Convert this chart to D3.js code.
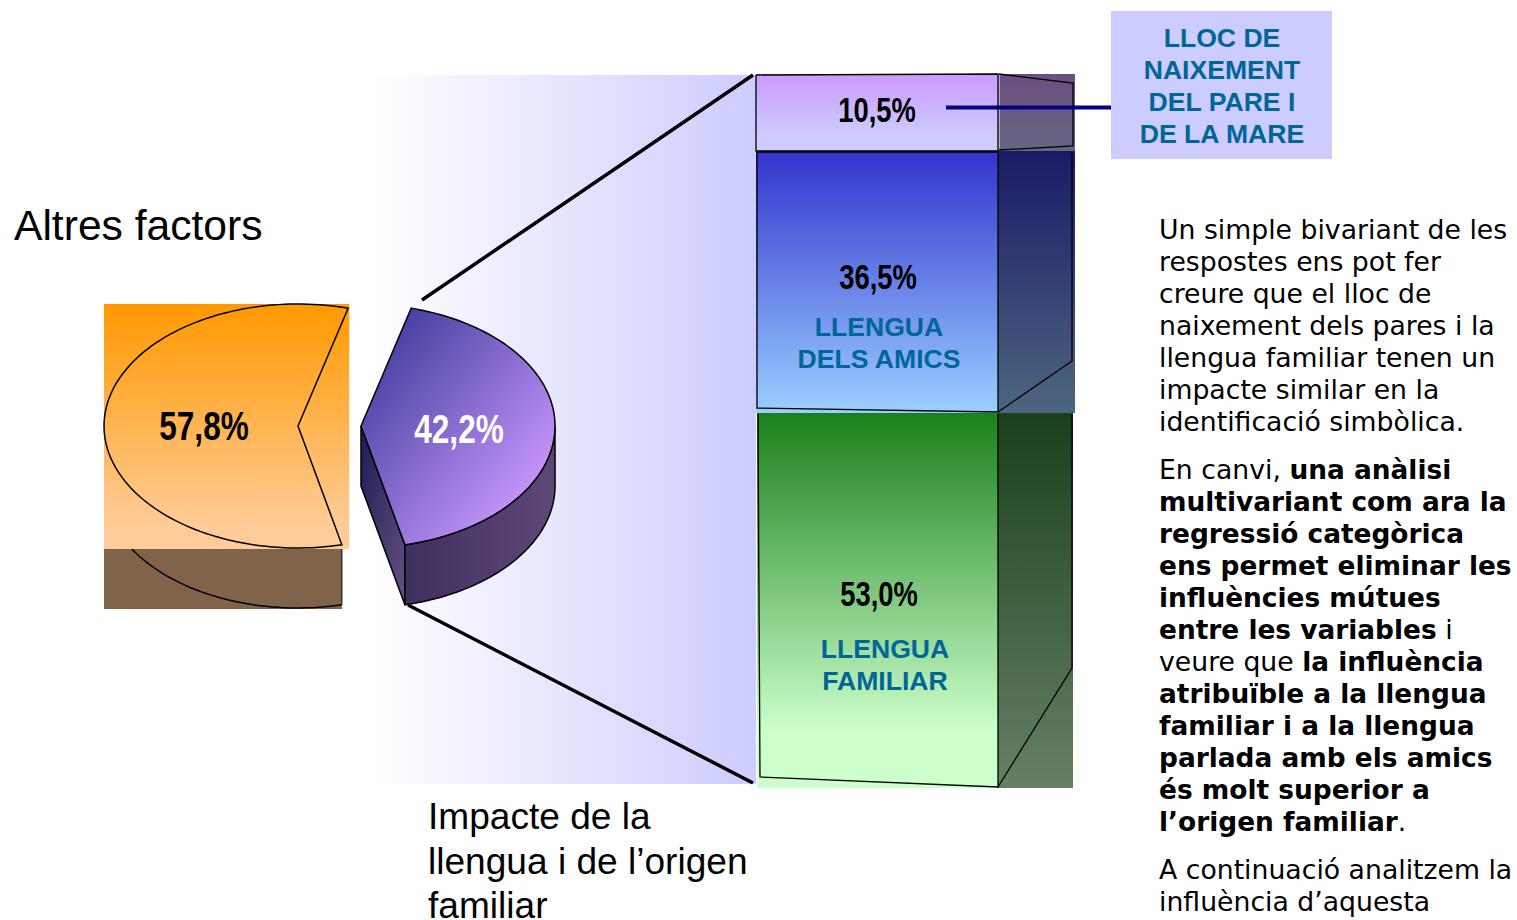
<!DOCTYPE html>
<html><head><meta charset="utf-8">
<style>html,body{margin:0;padding:0;background:#fff}svg{display:block}</style>
<script src="https://cdnjs.cloudflare.com/ajax/libs/d3/7.8.5/d3.min.js"></script>
</head><body><svg id="c" width="1517" height="920"></svg>
<script>
const pieLabels = ["42,2%", "57,8%"];
const pieValues = [42.2, 57.8];
const stackLabels = ["10,5%", "36,5%", "53,0%"];
const stackValues = [10.5, 36.5, 53.0];
const stackNames = [[], ["LLENGUA", "DELS AMICS"], ["LLENGUA", "FAMILIAR"]];
const frontTop = ["#cc99ff", "#3333cc", "#1a801a"];
const frontBottom = ["#ccccff", "#99ccff", "#ccffcc"];
const sideTop = ["#6b4f82", "#1a1a66", "#1a401a"];
const sideBottom = ["#666680", "#4d6680", "#668066"];
const calloutLines = ["LLOC DE", "NAIXEMENT", "DEL PARE I", "DE LA MARE"];
const impactLines = ["Impacte de la", "llengua i de l’origen", "familiar"];
const bodyLines = [
 [[0,"Un simple bivariant de les"]],[[0,"respostes ens pot fer"]],[[0,"creure que el lloc de"]],
 [[0,"naixement dels pares i la"]],[[0,"llengua familiar tenen un"]],[[0,"impacte similar en la"]],
 [[0,"identificació simbòlica."]],
 [[0,"En canvi, "],[1,"una anàlisi"]],[[1,"multivariant com ara la"]],[[1,"regressió categòrica"]],
 [[1,"ens permet eliminar les"]],[[1,"influències mútues"]],[[1,"entre les variables"],[0," i"]],
 [[0,"veure que "],[1,"la influència"]],[[1,"atribuïble a la llengua"]],[[1,"familiar i a la llengua"]],
 [[1,"parlada amb els amics"]],[[1,"és molt superior a"]],[[1,"l’origen familiar"],[0,"."]],
 [[0,"A continuació analitzem la"]],[[0,"influència d’aquesta"]]
];
const bodyY = [239,271,303,335,367,399,431,479,511,543,575,607,639,671,703,735,767,799,831,879,911];

const svg = d3.select("#c"), defs = svg.append("defs");
const grad = (id, c0, c1, x2, y2, o0=0, o1=1) => {
  const g = defs.append("linearGradient").attr("id", id).attr("x1",0).attr("y1",0).attr("x2",x2).attr("y2",y2);
  g.append("stop").attr("offset",o0).attr("stop-color",c0);
  g.append("stop").attr("offset",o1).attr("stop-color",c1);
};
const SANS = "'Liberation Sans',Arial,sans-serif";
const label = (x, y, t, fill, size=36) => svg.append("text").attr("transform",`translate(${x},${y}) scale(0.76,1)`)
  .attr("text-anchor","middle").attr("font-family",SANS).attr("font-weight",700).attr("font-size",size).attr("fill",fill).text(t);
const blue = (x, y, t) => svg.append("text").attr("x",x).attr("y",y).attr("text-anchor","middle")
  .attr("font-family",SANS).attr("font-weight",700).attr("font-size",26.6).attr("fill","#006699").text(t);

// wedge background
grad("wedge","#ffffff","#ccccff",1,0);
svg.append("rect").attr("x",370).attr("y",75).attr("width",386).attr("height",709).attr("fill","url(#wedge)");

// pies
const depth = 60, cy = 426, rx = 194, ry = 122;
const arcs = d3.pie().sort(null).startAngle(15*Math.PI/180).endAngle((15+360)*Math.PI/180)(pieValues);
const pt = (cx, a, dy=0) => [cx + rx*Math.sin(a), cy - ry*Math.cos(a) + dy];
const arcPts = (cx, a0, a1, dy=0) => d3.range(0, 121).map(i => pt(cx, a0 + (a1-a0)*i/120, dy));
const line = d3.line();

// orange slice
const oCx = 298, o = arcs[1];
grad("oTop","#ff9900","#ffcc99",0,1,0,0.92);
const oBotX = pt(oCx, o.startAngle)[0];
svg.append("rect").attr("x",oCx-rx).attr("y",cy+ry+1).attr("width",oBotX-(oCx-rx)).attr("height",depth).attr("fill","#80644a");
const clipId = defs.append("clipPath").attr("id","below");
clipId.append("rect").attr("x",oCx-rx).attr("y",cy+ry+1).attr("width",rx*2).attr("height",depth+2);
svg.append("path").attr("d", line(arcPts(oCx, o.startAngle, o.endAngle, depth)))
  .attr("fill","none").attr("stroke","#000").attr("stroke-width",1.5).attr("clip-path","url(#below)");
svg.append("line").attr("x1",oBotX).attr("x2",oBotX).attr("y1",cy+ry+1).attr("y2",pt(oCx,o.startAngle,depth)[1]).attr("stroke","#000").attr("stroke-width",1);
svg.append("rect").attr("x",oCx-rx).attr("y",cy-ry).attr("width",rx+pt(oCx,o.endAngle)[0]-oCx+1).attr("height",ry*2+1).attr("fill","url(#oTop)");
svg.append("path").attr("d", line([[oCx,cy], ...arcPts(oCx, o.startAngle, o.endAngle)])+"Z")
  .attr("fill","none").attr("stroke","#000").attr("stroke-width",1.5);
label(204, 440, pieLabels[1], "#000", 41.5);

// purple slice
const pCx = 361, p = arcs[0];
grad("pTop","#4440a0","#cc99ff",1,1,0.12,0.86);
grad("pSide","#3d2f5f","#5e4878",1,0);
grad("pLeft","#1c1c55","#665080",1,1);
svg.append("path").attr("d", line([[pCx,cy], pt(pCx,p.endAngle), pt(pCx,p.endAngle,depth), [pCx,cy+depth]])+"Z")
  .attr("fill","url(#pLeft)").attr("stroke","#000").attr("stroke-width",1.5);
const midA = Math.PI/2;
svg.append("path").attr("d", line([...arcPts(pCx,midA,p.endAngle), ...arcPts(pCx,p.endAngle,midA,depth)])+"Z")
  .attr("fill","url(#pSide)").attr("stroke","#000").attr("stroke-width",1.5);
svg.append("path").attr("d", line([[pCx,cy], ...arcPts(pCx,p.startAngle,p.endAngle)])+"Z")
  .attr("fill","url(#pTop)").attr("stroke","#000").attr("stroke-width",1.5);
label(459, 443, pieLabels[0], "#fff", 41.5);

// connector lines
svg.append("line").attr("x1",422).attr("y1",300).attr("x2",753).attr("y2",75).attr("stroke","#000").attr("stroke-width",3.5);
svg.append("line").attr("x1",408).attr("y1",605).attr("x2",753).attr("y2",783).attr("stroke","#000").attr("stroke-width",3.5);

// stacked block
const cum = [0]; stackValues.forEach(v => cum.push(cum[cum.length-1]+v));
const y = d3.scaleLinear().domain(cum).range([74,151,413,788]);
const fx0 = 756, fx1 = 998, sx1 = 1075;
const stops = [0.8, 0.98, 0.85];
stackValues.forEach((v,i) => {
  const top = y(cum[i]), bot = y(cum[i+1]);
  grad("f"+i, frontTop[i], frontBottom[i], 0, 1, 0, stops[i]);
  grad("s"+i, sideTop[i], sideBottom[i], 0, 1);
  svg.append("rect").attr("x",fx0+(i==2?1:0)).attr("y",top).attr("width",fx1-fx0-(i==2?1:0)).attr("height",bot-top).attr("fill",`url(#f${i})`);
  svg.append("rect").attr("x",fx1).attr("y",top).attr("width",sx1-fx1-(i==2?2:0)).attr("height",bot-top).attr("fill",`url(#s${i})`);
});
const outline = (pts) => svg.append("path").attr("d",line(pts)).attr("fill","none").attr("stroke","#000").attr("stroke-width",1.3);
// segment 0
svg.append("line").attr("x1",999).attr("x2",999).attr("y1",y(cum[0])).attr("y2",y(cum[1])).attr("stroke","#fff").attr("stroke-width",1);
outline([[756,75],[998,74],[998,151],[756,151],[756,75]]);
outline([[999,74],[1073,83],[1073,146],[999,150]]);
// segment 1
outline([[757,152],[998,152],[998,412],[757,408],[757,152]]);
outline([[1072,152],[1072,361],[998,412]]);
// segment 2
outline([[758,414],[760,777],[998,787],[998,414]]);
outline([[1072,414],[1072,668],[998,787]]);
label(877, 122, stackLabels[0], "#000");
label(878, 289, stackLabels[1], "#000");
label(879, 606, stackLabels[2], "#000");
stackNames[1].forEach((t,i)=>blue(879, 336+32*i, t));
stackNames[2].forEach((t,i)=>blue(885, 658+32*i, t));

// callout
svg.append("rect").attr("x",1111).attr("y",11).attr("width",221).attr("height",148).attr("fill","#ccccff");
svg.append("line").attr("x1",946).attr("y1",107.5).attr("x2",1111).attr("y2",107.5).attr("stroke","#000080").attr("stroke-width",4);
calloutLines.forEach((t,i)=>blue(1222, 47+32*i, t));

// titles
svg.append("text").attr("x",14).attr("y",240).attr("font-family",SANS).attr("font-size",42.6).attr("fill","#000").text("Altres factors");
impactLines.forEach((t,i)=>svg.append("text").attr("x",428).attr("y",829+44.5*i).attr("font-family",SANS).attr("font-size",37.1).attr("fill","#000").text(t));

// body text
const body = svg.append("g").attr("font-family","'DejaVu Sans',Verdana,sans-serif").attr("fill","#000");
bodyLines.forEach((segs,i)=>{
  const t = body.append("text").attr("x",1159).attr("y",bodyY[i]).style("white-space","pre");
  segs.forEach(s=>t.append("tspan").attr("font-weight",s[0]?700:400).attr("font-size",s[0]?26.4:26.7).text(s[1]));
});
</script></body></html>
